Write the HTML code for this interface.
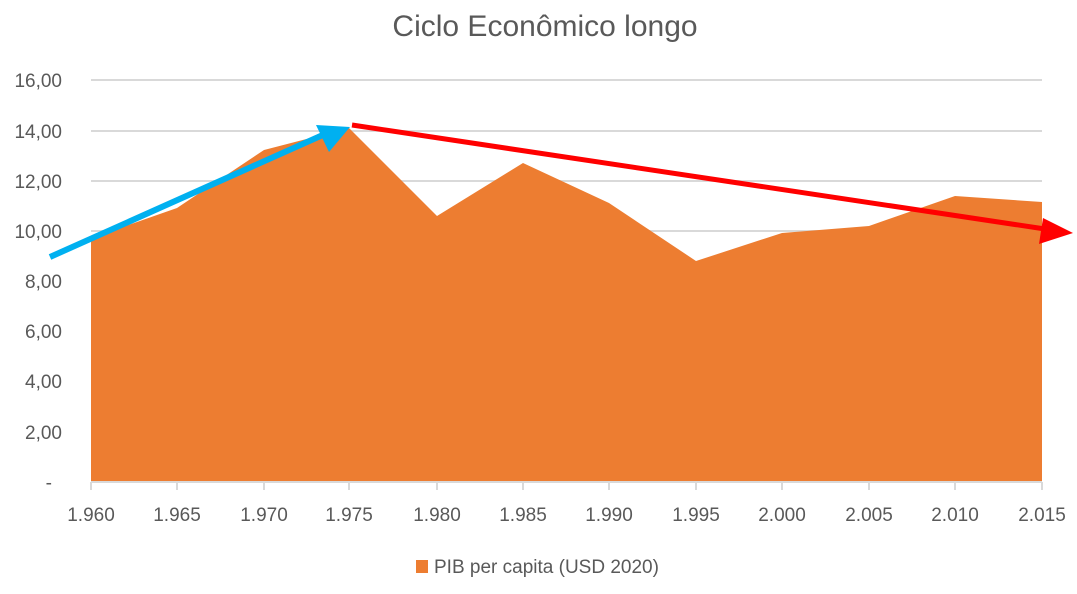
<!DOCTYPE html>
<html><head><meta charset="utf-8"><style>
html,body{margin:0;padding:0;background:#fff;}
svg{display:block;font-family:"Liberation Sans",sans-serif;}
</style></head><body>
<svg width="1077" height="594" viewBox="0 0 1077 594" xmlns="http://www.w3.org/2000/svg">
<rect width="1077" height="594" fill="#fff"/>
<text x="545" y="36" font-size="30" fill="#595959" text-anchor="middle">Ciclo Econômico longo</text>
<g stroke="#d9d9d9" stroke-width="2">
<line x1="91" y1="80" x2="1042" y2="80"/>
<line x1="91" y1="131" x2="1042" y2="131"/>
<line x1="91" y1="181" x2="1042" y2="181"/>
<line x1="91" y1="231" x2="1042" y2="231"/>
<line x1="91" y1="281" x2="1042" y2="281"/>
<line x1="91" y1="331" x2="1042" y2="331"/>
<line x1="91" y1="381" x2="1042" y2="381"/>
<line x1="91" y1="432" x2="1042" y2="432"/>
</g>
<g font-size="19" fill="#595959" text-anchor="end">
<text x="62" y="87">16,00</text>
<text x="62" y="138">14,00</text>
<text x="62" y="188">12,00</text>
<text x="62" y="238">10,00</text>
<text x="62" y="288">8,00</text>
<text x="62" y="338">6,00</text>
<text x="62" y="388">4,00</text>
<text x="62" y="439">2,00</text>
<text x="52" y="489">-</text>
</g>
<polygon fill="#ed7d31" points="91,482 91,238 177,208 264,150 349,128 437,216 523,163 609,203 696,261 782,233 869,226 955,196 1042,202 1042,482"/>
<line x1="91" y1="482" x2="1042" y2="482" stroke="#d9d9d9" stroke-width="2"/>
<g stroke="#d9d9d9" stroke-width="2">
<line x1="91" y1="482" x2="91" y2="490"/><line x1="177" y1="482" x2="177" y2="490"/><line x1="264" y1="482" x2="264" y2="490"/><line x1="349" y1="482" x2="349" y2="490"/><line x1="437" y1="482" x2="437" y2="490"/><line x1="523" y1="482" x2="523" y2="490"/><line x1="609" y1="482" x2="609" y2="490"/><line x1="696" y1="482" x2="696" y2="490"/><line x1="782" y1="482" x2="782" y2="490"/><line x1="869" y1="482" x2="869" y2="490"/><line x1="955" y1="482" x2="955" y2="490"/><line x1="1042" y1="482" x2="1042" y2="490"/>
</g>
<g font-size="19" fill="#595959" text-anchor="middle">
<text x="91" y="521">1.960</text><text x="177" y="521">1.965</text><text x="264" y="521">1.970</text><text x="349" y="521">1.975</text><text x="437" y="521">1.980</text><text x="523" y="521">1.985</text><text x="609" y="521">1.990</text><text x="696" y="521">1.995</text><text x="782" y="521">2.000</text><text x="869" y="521">2.005</text><text x="955" y="521">2.010</text><text x="1042" y="521">2.015</text>
</g>
<rect x="416" y="560" width="12" height="13" fill="#ed7d31"/>
<text x="434" y="573" font-size="19" fill="#595959">PIB per capita (USD 2020)</text>
<line x1="50" y1="257" x2="325" y2="134" stroke="#00b0f0" stroke-width="6"/>
<polygon fill="#00b0f0" points="350,127 316,125 329,152"/>
<line x1="352" y1="125" x2="1045" y2="229" stroke="#ff0000" stroke-width="5"/>
<polygon fill="#ff0000" points="1073,233 1043,218 1039,244"/>
</svg>
</body></html>
